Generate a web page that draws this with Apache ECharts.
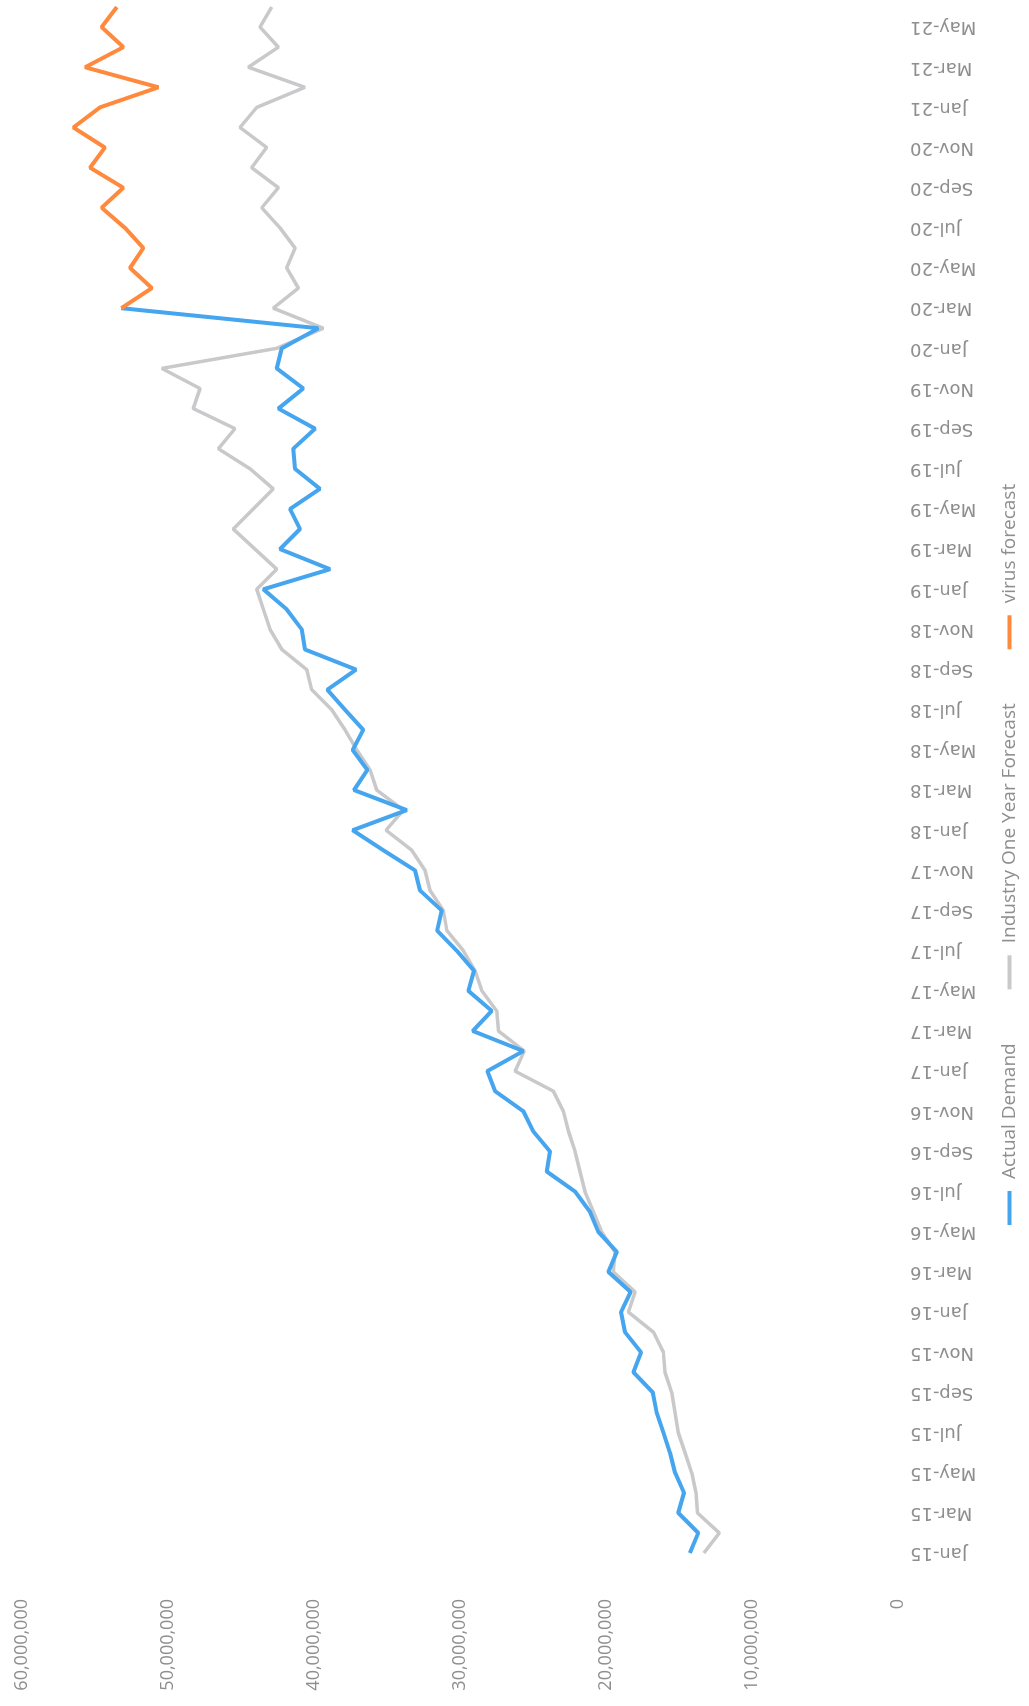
<!DOCTYPE html>
<html>
<head>
<meta charset="utf-8">
<script src="https://cdn.jsdelivr.net/npm/echarts@6/dist/echarts.min.js"></script>
<style>
  html, body { margin: 0; padding: 0; background: #ffffff; overflow: hidden; }
  #wrap { position: relative; width: 1029px; height: 1706px; overflow: hidden; }
  /* chart is laid out landscape and turned a quarter turn counter-clockwise */
  #chart {
    position: absolute; left: 0; top: 0;
    width: 1706px; height: 1029px;
    transform-origin: 0 0;
    transform: translateY(1706px) rotate(-90deg);
  }
</style>
</head>
<body>
<div id="wrap"><div id="chart"></div></div>
<script>
// Monthly periods, Jan-15 .. Jun-21
const months = [
  'Jan-15','Feb-15','Mar-15','Apr-15','May-15','Jun-15','Jul-15','Aug-15','Sep-15','Oct-15','Nov-15','Dec-15',
  'Jan-16','Feb-16','Mar-16','Apr-16','May-16','Jun-16','Jul-16','Aug-16','Sep-16','Oct-16','Nov-16','Dec-16',
  'Jan-17','Feb-17','Mar-17','Apr-17','May-17','Jun-17','Jul-17','Aug-17','Sep-17','Oct-17','Nov-17','Dec-17',
  'Jan-18','Feb-18','Mar-18','Apr-18','May-18','Jun-18','Jul-18','Aug-18','Sep-18','Oct-18','Nov-18','Dec-18',
  'Jan-19','Feb-19','Mar-19','Apr-19','May-19','Jun-19','Jul-19','Aug-19','Sep-19','Oct-19','Nov-19','Dec-19',
  'Jan-20','Feb-20','Mar-20','Apr-20','May-20','Jun-20','Jul-20','Aug-20','Sep-20','Oct-20','Nov-20','Dec-20',
  'Jan-21','Feb-21','Mar-21','Apr-21','May-21','Jun-21'
];

// Actual demand, Jan-15 .. Mar-20
const actualDemand = [
  14250000, 13680000, 15050000, 14660000, 15270000, 15620000, 16070000, 16530000, 16800000, 18120000, 17600000, 18700000,
  18970000, 18310000, 19840000, 19260000, 20530000, 21100000, 22120000, 24060000, 23840000, 24980000, 25660000, 27600000,
  28130000, 25660000, 29130000, 27830000, 29430000, 29040000, 30230000, 31570000, 31250000, 32740000, 33080000, 35250000,
  37350000, 33650000, 37260000, 36340000, 37350000, 36620000, 37880000, 39090000, 37120000, 40620000, 40840000, 41870000,
  43470000, 38900000, 42330000, 40960000, 41640000, 39590000, 41300000, 41420000, 39930000, 42440000, 40730000, 42550000,
  42210000, 39700000, 53200000
];

// Industry one year forecast, Jan-15 .. Jun-21
const industryForecast = [
  13290000, 12240000, 13740000, 13840000, 14130000, 14590000, 15050000, 15270000, 15500000, 15960000, 16070000, 16750000,
  18470000, 18010000, 19500000, 19380000, 20300000, 20870000, 21440000, 21780000, 22120000, 22570000, 22920000, 23600000,
  26230000, 25600000, 27370000, 27490000, 28500000, 28970000, 29770000, 30900000, 31140000, 32050000, 32400000, 33300000,
  35070000, 33880000, 35700000, 36160000, 37070000, 37880000, 38790000, 40160000, 40500000, 42200000, 43010000, 43470000,
  43920000, 42550000, 44040000, 45530000, 44160000, 42790000, 44380000, 46550000, 45410000, 48270000, 47810000, 50430000,
  42550000, 39360000, 42790000, 41070000, 41870000, 41300000, 42330000, 43580000, 42440000, 44270000, 43240000, 45070000,
  43920000, 40620000, 44500000, 42440000, 43700000, 42900000
];

// Virus forecast, Mar-20 .. Jun-21 (no values before Mar-20)
const virusStart = 'Mar-20';
const virusForecast = [
  53200000, 51100000, 52600000, 51690000, 52950000, 54540000, 53060000, 55340000,
  54320000, 56480000, 54660000, 50660000, 55680000, 53060000, 54540000, 53500000
];

// Value axis ticks
const valueTicks = [0, 10000000, 20000000, 30000000, 40000000, 50000000, 60000000];

const seriesNames = ['Actual Demand', 'Industry One Year Forecast', 'virus forecast'];
const seriesColors = ['#45a5ee', '#c9c9cb', '#ff8a3d'];

const virusOffset = months.indexOf(virusStart);
const virusData = months.map((m, i) =>
  i >= virusOffset ? virusForecast[i - virusOffset] : null);

const fmt = v => String(v).replace(/\B(?=(\d{3})+(?!\d))/g, ',');

const chart = echarts.init(document.getElementById('chart'), null, { renderer: 'canvas' });
const textFont = '"Open Sans", "Liberation Sans", sans-serif';
const labelColor = '#8e8e8e';

chart.setOption({
  backgroundColor: '#ffffff',
  animation: false,
  textStyle: { fontFamily: textFont },
  grid: { left: 153, right: 7, top: 22, bottom: 131, containLabel: false },
  legend: {
    data: seriesNames,
    bottom: 5,
    left: 476,
    itemGap: 54,
    itemWidth: 34,
    itemHeight: 4,
    icon: 'rect',
    textStyle: { color: labelColor, fontSize: 19, fontFamily: textFont, padding: [0, 0, 0, 7] }
  },
  xAxis: {
    type: 'category',
    data: months,
    boundaryGap: false,
    axisLine: { show: false },
    axisTick: { show: false },
    splitLine: { show: false },
    axisLabel: {
      interval: 1,
      rotate: 90,
      margin: 12,
      color: labelColor,
      fontSize: 18,
      fontFamily: '"DejaVu Sans", sans-serif'
    }
  },
  yAxis: {
    type: 'value',
    min: valueTicks[0],
    max: valueTicks[valueTicks.length - 1],
    interval: valueTicks[1] - valueTicks[0],
    axisLine: { show: false },
    axisTick: { show: false },
    splitLine: { show: false },
    axisLabel: {
      margin: 46,
      color: labelColor,
      fontSize: 18,
      fontFamily: textFont,
      formatter: v => fmt(v)
    }
  },
  series: [
    {
      name: seriesNames[1], type: 'line', data: industryForecast,
      showSymbol: false, symbol: 'none', z: 1,
      lineStyle: { color: seriesColors[1], width: 3.5 },
      itemStyle: { color: seriesColors[1] }
    },
    {
      name: seriesNames[0], type: 'line', data: actualDemand,
      showSymbol: false, symbol: 'none', z: 2,
      lineStyle: { color: seriesColors[0], width: 4 },
      itemStyle: { color: seriesColors[0] }
    },
    {
      name: seriesNames[2], type: 'line', data: virusData,
      showSymbol: false, symbol: 'none', z: 3, connectNulls: false,
      lineStyle: { color: seriesColors[2], width: 4 },
      itemStyle: { color: seriesColors[2] }
    }
  ]
});
</script>
</body>
</html>
